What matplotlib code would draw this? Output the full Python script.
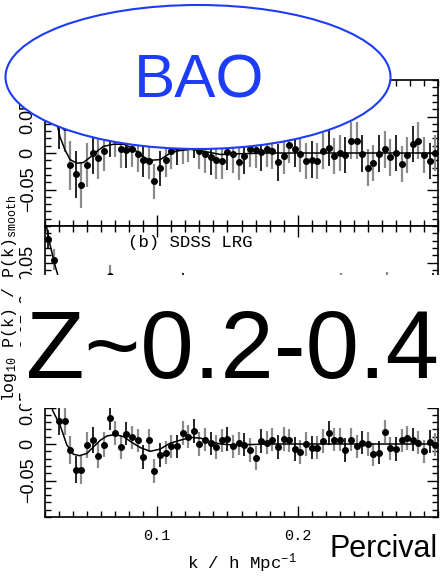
import numpy as np
import matplotlib.pyplot as plt
from matplotlib.patches import Ellipse, Rectangle
from matplotlib.ticker import MultipleLocator, FixedLocator, FixedFormatter

plt.rcParams['mathtext.fontset'] = 'custom'
plt.rcParams['mathtext.rm'] = 'Liberation Mono'
plt.rcParams['mathtext.it'] = 'Liberation Mono'

W, H = 441, 577

# band centres (regular k grid of the data points)
k = np.round(np.arange(0.030, 0.3005, 0.004), 3)

# (a) top panel
top_val = [0.040, 0.035, -0.017, -0.029, -0.044, -0.016, 0.000, -0.007, 0.003, 0.020,
           0.020, 0.005, 0.004, 0.005, -0.002, -0.009, -0.011, -0.039, -0.021, -0.009,
           0.003, 0.008, 0.010, 0.012, 0.018, 0.003, -0.002, -0.005, -0.010, -0.011,
           0.002, -0.002, -0.012, -0.004, 0.006, 0.004, 0.001, 0.006, 0.003, -0.013,
           -0.004, 0.011, 0.006, -0.001, -0.011, -0.009, -0.011, 0.003, 0.007, -0.004,
           0.000, -0.003, 0.017, 0.017, -0.001, -0.020, -0.014, -0.001, 0.005, -0.006,
           0.000, -0.015, -0.003, 0.012, 0.017, -0.003, -0.011, 0.000]
top_err = [0.034, 0.034, 0.033, 0.032, 0.031, 0.030, 0.029, 0.028, 0.027, 0.026,
           0.026, 0.025, 0.025, 0.024, 0.024, 0.024, 0.024, 0.024, 0.024, 0.024] + [0.025] * 48

# (c) bottom panel
bot_val = [0.031, 0.031, -0.008, -0.035, -0.036, -0.001, 0.005, -0.016, -0.001, 0.035,
           0.015, -0.004, 0.014, 0.009, 0.005, -0.018, 0.005, -0.037, -0.015, -0.012,
           -0.003, -0.003, 0.015, 0.010, 0.018, 0.000, 0.006, 0.001, -0.004, 0.005,
           0.007, -0.003, 0.001, -0.001, -0.008, -0.019, 0.004, 0.002, 0.006, -0.004,
           0.007, 0.005, -0.007, -0.011, 0.000, -0.005, -0.005, 0.004, 0.015, 0.006,
           0.006, -0.008, 0.006, -0.003, 0.002, 0.000, -0.014, -0.012, 0.017, -0.006,
           -0.007, 0.005, 0.008, 0.006, 0.002, -0.010, 0.003, -0.001]
bot_err = [0.019, 0.019, 0.019, 0.019, 0.019, 0.018, 0.018, 0.017, 0.017, 0.016] + [0.016] * 58

# (b) middle panel, only what shows above the white box
k_mid = [0.0224, 0.0264, 0.0664, 0.1186, 0.2310, 0.2634, 0.2966]
mid_val = [0.082, 0.054, 0.032, 0.016, 0.015, 0.016, 0.015]
mid_err = [0.013, 0.014, 0.015, 0.020, 0.021, 0.021, 0.021]

# smooth BAO model curves
kc_top = [0.020, 0.024, 0.0284, 0.0307, 0.0343, 0.0379, 0.0426, 0.0474, 0.0521, 0.0569,
          0.0616, 0.0688, 0.0759, 0.0831, 0.0879, 0.095, 0.1021, 0.1093, 0.1148, 0.1236,
          0.1343, 0.145, 0.159, 0.18, 0.30]
yc_top = [0.120, 0.075, 0.041, 0.022, 0.004, -0.009, -0.014, -0.013, -0.006, 0.002,
          0.009, 0.012, 0.012, 0.006, -0.003, -0.010, -0.009, 0.000, 0.003, 0.005,
          0.002, -0.002, -0.001, 0.000, 0.000]
kc_bot = [0.020, 0.0259, 0.0307, 0.0355, 0.0402, 0.0445, 0.0498, 0.0545, 0.0593, 0.0641,
          0.070, 0.076, 0.082, 0.088, 0.095, 0.102, 0.109, 0.116, 0.124, 0.131,
          0.138, 0.145, 0.152, 0.162, 0.18, 0.30]
yc_bot = [0.075, 0.044, 0.026, -0.001, -0.014, -0.016, -0.013, -0.004, 0.005, 0.011,
          0.013, 0.010, 0.002, -0.005, -0.010, -0.007, 0.001, 0.005, 0.009, 0.008,
          0.003, 0.000, -0.001, -0.001, 0.000, 0.000]
kc_mid = [0.020, 0.0235, 0.027, 0.030, 0.034, 0.040]
yc_mid = [0.110, 0.075, 0.047, 0.027, 0.005, -0.015]

blue = '#1d3cf7'


def fx(x):
    return x / W


def fy(y):
    return 1 - y / H


def draw_panel(ax, kk, val, err):
    kk = np.asarray(kk)
    val = np.asarray(val)
    err = np.asarray(err)
    dark = np.arange(len(kk)) % 3 == 0
    ax.errorbar(kk[~dark], val[~dark], yerr=err[~dark], fmt='none', ecolor='#8a8a8a',
                elinewidth=1.6, capsize=0)
    ax.errorbar(kk[dark], val[dark], yerr=err[dark], fmt='none', ecolor='black',
                elinewidth=1.2, capsize=0)
    ax.plot(kk, val, 'o', color='black', ms=4)


fig = plt.figure(figsize=(W / 100, H / 100), dpi=100)
left, width = fx(45), (438 - 45) / W
ph = 146 / H
ax_top = fig.add_axes([left, fy(226), width, ph])
ax_mid = fig.add_axes([left, fy(372), width, ph])
ax_bot = fig.add_axes([left, fy(517), width, ph])

draw_panel(ax_top, k, top_val, top_err)
ax_top.plot(kc_top, yc_top, color='black', lw=1.1)
draw_panel(ax_mid, k_mid, mid_val, mid_err)
ax_mid.plot(kc_mid, yc_mid, color='black', lw=1.1)
draw_panel(ax_bot, k, bot_val, bot_err)
ax_bot.plot(kc_bot, yc_bot, color='black', lw=1.1)

for ax in (ax_top, ax_mid, ax_bot):
    ax.set_xlim(0.02, 0.30)
    ax.set_ylim(-0.1, 0.1)
    ax.xaxis.set_major_locator(FixedLocator([0.1, 0.2]))
    ax.xaxis.set_minor_locator(MultipleLocator(0.01))
    ax.yaxis.set_major_locator(FixedLocator([-0.05, 0, 0.05]))
    ax.yaxis.set_minor_locator(MultipleLocator(0.01))
    ax.yaxis.set_major_formatter(FixedFormatter(['\u22120.05', '0', '0.05']))
    ax.tick_params(which='both', direction='in', top=True, right=True, width=1)
    ax.tick_params(which='major', length=8)
    ax.tick_params(which='minor', length=4)
    ax.tick_params(axis='y', pad=6)
    for lab in ax.get_yticklabels():
        lab.set_rotation(90)
        lab.set_va('center')
        lab.set_family('Liberation Sans')
        lab.set_fontsize(13)
    for s in ax.spines.values():
        s.set_linewidth(1.2)
    if ax is not ax_bot:
        ax.tick_params(axis='x', labelbottom=False)

for lab in ax_bot.get_xticklabels():
    lab.set_family('Liberation Mono')
    lab.set_fontsize(11)
ax_bot.tick_params(axis='x', pad=9)
ax_bot.set_xticklabels(['0.1', '0.2'])
ax_bot.set_xlabel(r'k / h Mpc$^{-1}$', family='Liberation Mono', fontsize=12.5, labelpad=6)

ax_mid.text((128 - 45) / 393, 1 - 17 / 146, '(b) SDSS LRG', transform=ax_mid.transAxes,
            family='Liberation Mono', fontsize=12.5, va='center', ha='left')

fig.text(fx(10), fy(298), r'log$_{10}$ P(k) / P(k)$_{\rm smooth}$', rotation=90,
         family='Liberation Mono', fontsize=12, ha='center', va='center')

# slide overlays
fig.add_artist(Ellipse((fx(198), fy(77)), 385 / W, 144 / H, transform=fig.transFigure,
                       facecolor='white', edgecolor=blue, lw=1.5, zorder=10))
fig.text(fx(199), fy(98), 'BAO', color=blue, family='Liberation Sans', fontsize=44.5,
         ha='center', va='baseline', zorder=11)
fig.add_artist(Rectangle((fx(21), fy(408)), 420 / W, 133 / H, transform=fig.transFigure,
                         facecolor='white', edgecolor='none', zorder=10))
fig.text(fx(26), fy(378), 'Z~0.2-0.4', color='black', family='Liberation Sans',
         fontsize=69, ha='left', va='baseline', zorder=11)
fig.text(fx(330), fy(557), 'Percival', color='black', family='Liberation Sans',
         fontsize=22, ha='left', va='baseline', zorder=11)

fig.savefig('out.png', dpi=100)
